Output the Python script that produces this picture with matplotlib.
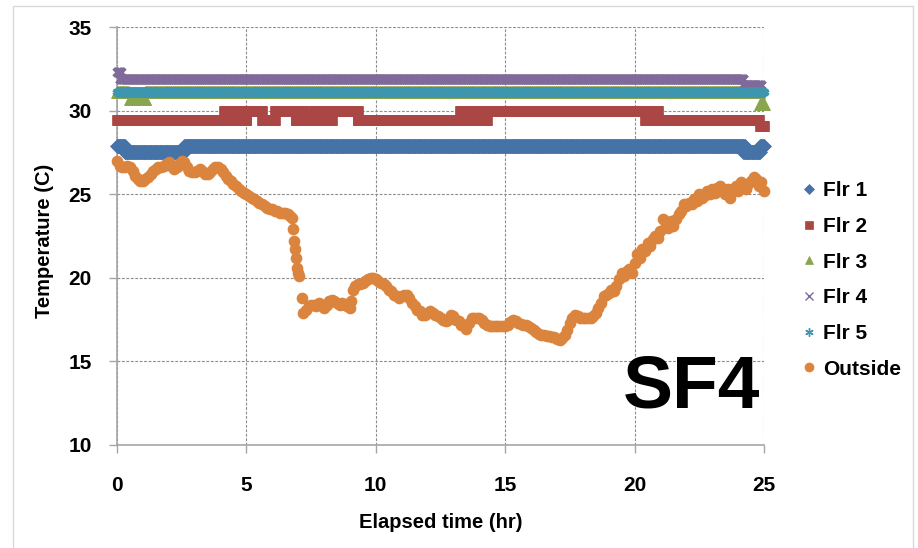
import numpy as np
import matplotlib
matplotlib.use("Agg")
import matplotlib.pyplot as plt
from matplotlib.lines import Line2D
from matplotlib.patches import Rectangle

plt.rcParams['font.family'] = ['Liberation Sans', 'DejaVu Sans']

# ---------------- data ----------------
# Floor sensors: constant readings over (start_hr, end_hr, temperature_C) spans
flr1_spans = [(0.0, 0.3, 27.9), (0.3, 2.6, 27.5), (2.6, 24.25, 27.9), (24.2, 24.85, 27.5), (24.85, 25.0, 27.9)]
flr2_spans = [(0.0, 5.0, 29.45), (4.15, 5.6, 30.0), (5.6, 6.1, 29.45), (6.1, 7.2, 30.0), (6.9, 8.3, 29.45),
              (7.6, 9.3, 30.0), (9.3, 14.3, 29.45), (13.25, 20.9, 30.0), (20.4, 24.8, 29.45), (24.85, 25.0, 29.1)]
flr3_spans = [(0.0, 0.45, 31.1), (0.5, 1.1, 30.7), (1.1, 24.8, 31.1), (24.85, 25.0, 30.4)]
flr4_spans = [(0.0, 0.15, 32.3), (0.1, 24.2, 31.9), (24.2, 24.9, 31.55)]
flr5_spans = [(0.0, 25.0, 31.1)]

out_hours = [0.0, 0.1, 0.2, 0.3, 0.4, 0.5, 0.6, 0.7, 0.8, 0.9, 1.0, 1.1, 1.2, 1.3, 1.4, 1.5, 1.6, 1.7, 1.8, 1.9,
             2.0, 2.1, 2.2, 2.3, 2.4, 2.5, 2.6, 2.7, 2.8, 2.9, 3.0, 3.1, 3.2, 3.3, 3.4, 3.5, 3.6, 3.7, 3.8, 3.9,
             4.0, 4.1, 4.2, 4.3, 4.4, 4.5, 4.6, 4.7, 4.8, 4.9, 5.0, 5.1, 5.2, 5.3, 5.4, 5.5, 5.6, 5.7, 5.8, 5.9,
             6.0, 6.1, 6.2, 6.3, 6.4, 6.5, 6.6, 6.7, 6.75,
             6.8, 6.85, 6.87, 6.9, 6.95, 7.0, 7.05, 7.15, 7.2, 7.3, 7.4, 7.5, 7.6, 7.7, 7.8, 7.9,
             8.0, 8.1, 8.2, 8.3, 8.4, 8.5, 8.6, 8.7, 8.8, 8.9, 9.0, 9.05, 9.1, 9.2, 9.3, 9.4, 9.5, 9.6, 9.7, 9.8, 9.9,
             10.0, 10.1, 10.2, 10.3, 10.4, 10.5, 10.6, 10.7, 10.8, 10.9, 11.0, 11.1, 11.2, 11.3, 11.4, 11.5, 11.6,
             11.7, 11.8, 11.9, 12.0, 12.1, 12.2, 12.3, 12.4, 12.5, 12.6, 12.7, 12.8, 12.9, 13.0, 13.1, 13.2, 13.3,
             13.4, 13.5, 13.6, 13.7, 13.8, 13.9, 14.0, 14.1, 14.2, 14.3, 14.4, 14.5, 14.6, 14.7, 14.8, 14.9, 15.0,
             15.1, 15.2, 15.3, 15.4, 15.5, 15.6, 15.7, 15.8, 15.9, 16.0, 16.1, 16.2, 16.3, 16.4, 16.5, 16.6, 16.7,
             16.8, 16.9, 17.0, 17.1, 17.2, 17.3, 17.4, 17.5, 17.6, 17.7, 17.8, 17.9, 18.0, 18.1, 18.2, 18.3, 18.4,
             18.5, 18.6, 18.7, 18.8, 18.9,
             19.0, 19.1, 19.2, 19.3, 19.4, 19.5, 19.6, 19.7, 19.8, 19.9, 20.0, 20.1, 20.2, 20.3, 20.4, 20.5, 20.6,
             20.7, 20.8, 20.9, 21.0, 21.1, 21.2, 21.3, 21.4, 21.5, 21.6, 21.7, 21.8, 21.9, 22.0, 22.1, 22.2, 22.3,
             22.4, 22.5, 22.6, 22.7, 22.8, 22.9, 23.0, 23.1, 23.2, 23.3, 23.4, 23.5, 23.6, 23.7, 23.8, 23.9, 24.0,
             24.1, 24.2, 24.3, 24.4, 24.5, 24.6, 24.7, 24.8, 24.9, 25.0]
out_temp = [27.0, 26.7, 26.6, 26.6, 26.7, 26.6, 26.4, 26.1, 25.9, 25.8, 25.8, 25.9, 26.0, 26.2, 26.4, 26.5, 26.6, 26.6, 26.7, 26.8,
            26.9, 26.7, 26.5, 26.6, 26.8, 27.0, 26.9, 26.6, 26.4, 26.3, 26.3, 26.4, 26.5, 26.4, 26.2, 26.2, 26.3, 26.5, 26.6, 26.6,
            26.5, 26.3, 26.1, 25.9, 25.8, 25.6, 25.5, 25.3, 25.2, 25.1, 25.0, 24.9, 24.8, 24.7, 24.6, 24.5, 24.4, 24.3, 24.2, 24.1,
            24.1, 24.0, 24.0, 23.9, 23.9, 23.9, 23.8, 23.7, 23.6,
            22.9, 22.2, 21.7, 21.2, 20.6, 20.3, 20.1, 18.8, 17.9, 18.1, 18.3, 18.4, 18.4, 18.3, 18.5, 18.4,
            18.2, 18.4, 18.6, 18.7, 18.6, 18.5, 18.4, 18.5, 18.4, 18.3, 18.2, 18.6, 19.3, 19.5, 19.6, 19.6, 19.7, 19.8, 19.9, 20.0, 20.0,
            19.9, 19.8, 19.7, 19.6, 19.5, 19.3, 19.2, 19.0, 18.9, 18.8, 18.9, 19.0, 19.0, 18.8, 18.5, 18.3, 18.1,
            18.0, 17.8, 17.8, 17.9, 18.0, 17.9, 17.8, 17.7, 17.6, 17.5, 17.4, 17.5, 17.8, 17.7, 17.5, 17.4, 17.2,
            17.1, 16.95, 17.3, 17.6, 17.6, 17.6, 17.6, 17.5, 17.3, 17.2, 17.1, 17.1, 17.1, 17.1, 17.1, 17.1, 17.1,
            17.2, 17.35, 17.45, 17.4, 17.3, 17.25, 17.2, 17.15, 17.1, 17.0, 16.9, 16.75, 16.65, 16.6, 16.55, 16.5, 16.5,
            16.45, 16.45, 16.35, 16.3, 16.4, 16.6, 16.9, 17.3, 17.6, 17.8, 17.7, 17.6, 17.6, 17.6, 17.6, 17.6, 17.7,
            17.9, 18.2, 18.5, 18.9, 19.0,
            19.1, 19.3, 19.2, 19.5, 19.9, 20.3, 20.1, 20.4, 20.5, 20.3, 20.9, 21.4, 21.2, 21.7, 21.6, 22.1, 21.9,
            22.3, 22.5, 22.4, 22.8, 23.5, 23.2, 23.0, 23.4, 23.1, 23.5, 23.8, 24.0, 24.4, 24.3, 24.5, 24.4, 24.7,
            24.6, 25.0, 24.8, 24.9, 25.2, 25.0, 25.3, 25.1, 25.4, 25.5, 25.2, 25.0, 25.3, 24.8, 25.2, 25.5, 25.2,
            25.7, 25.4, 25.3, 25.6, 25.8, 26.0, 25.9, 25.5, 25.7, 25.2]

series_names = ["Flr 1", "Flr 2", "Flr 3", "Flr 4", "Flr 5", "Outside"]
colors = ["#4572A7", "#AA4643", "#89A54E", "#80699B", "#3D96AE", "#DB843D"]
sample_step = 0.025  # logger sampling shown on the chart


def expand(spans):
    xs, ys = [], []
    for a, b, v in spans:
        n = int(round((b - a) / sample_step)) + 1
        t = np.linspace(a, b, n)
        xs.append(t)
        ys.append(np.full(n, v))
    return np.concatenate(xs), np.concatenate(ys)


# ---------------- figure ----------------
fig = plt.figure(figsize=(9.18, 5.48), dpi=100)
ax = fig.add_axes([117 / 918, 1 - 445 / 548, (764 - 117) / 918, (445 - 27) / 548])

fig.patches.append(Rectangle((13 / 918, -0.05), 900 / 918, 1.05 - 6 / 548, transform=fig.transFigure,
                             fill=False, edgecolor="#d9d9d9", linewidth=1.0, zorder=0))

styles = [
    dict(marker="D", markersize=7.5, markeredgewidth=0.5),
    dict(marker="s", markersize=7.2, markeredgewidth=0.5),
    dict(marker="^", markersize=8.0, markeredgewidth=0.5),
    dict(marker="x", markersize=6.0, markeredgewidth=2.4),
    dict(marker=(6, 2, 0), markersize=6.8, markeredgewidth=2.4),
]
for i, spans in enumerate([flr1_spans, flr2_spans, flr3_spans, flr4_spans, flr5_spans]):
    x, y = expand(spans)
    ax.plot(x, y, linestyle="none", color=colors[i], markerfacecolor=colors[i], markeredgecolor=colors[i],
            clip_on=False, zorder=3 + i, **styles[i])

ax.plot(out_hours, out_temp, linestyle="none", marker="o", markersize=7.4, color=colors[5],
        markeredgecolor=colors[5], clip_on=False, zorder=10)

ax.set_xlim(0, 25)
ax.set_ylim(10, 35)
ax.set_xticks([0, 5, 10, 15, 20, 25])
ax.set_yticks([10, 15, 20, 25, 30, 35])
ax.grid(True, color="#8c8c8c", linestyle=(0, (2.5, 1.5)), linewidth=0.8)
ax.set_axisbelow(True)
for s in ["top", "right"]:
    ax.spines[s].set_visible(False)
for s in ["left", "bottom"]:
    ax.spines[s].set_color("#a6a6a6")
    ax.spines[s].set_linewidth(1.2)
ax.tick_params(axis="both", direction="out", length=6, width=1.0, color="#a6a6a6", labelsize=15)
ax.tick_params(axis="y", pad=12)
ax.tick_params(axis="x", pad=16)
for lab in ax.get_xticklabels() + ax.get_yticklabels():
    lab.set_fontweight("bold")

fig.text(441 / 918, 1 - 523 / 548, "Elapsed time (hr)", ha="center", va="center", fontsize=14.5, fontweight="bold")
fig.text(45 / 918, 1 - 241 / 548, "Temperature (C)", ha="center", va="center", rotation=90, fontsize=14.5,
         fontweight="bold")
fig.text(691 / 918, 1 - 408 / 548, "SF4", ha="center", va="baseline", fontsize=54, fontweight="bold")

leg_markers = ["D", "s", "^", "x", (6, 2, 0), "o"]
leg_sizes = [5, 6, 6, 6, 6, 6.5]
handles = [Line2D([], [], linestyle="none", marker=m, markersize=ms, color=c, markeredgecolor=c,
                  markeredgewidth=1.0 if m in ("x", (6, 2, 0)) else 0.5)
           for m, ms, c in zip(leg_markers, leg_sizes, colors)]
leg = fig.legend(handles, series_names, loc="center left", bbox_to_anchor=(793 / 918, 1 - 280 / 548),
                 frameon=False, borderpad=0, handlelength=0.5, handletextpad=0.45, labelspacing=0.8,
                 prop=dict(size=15, weight="bold"))

fig.savefig("out.png", dpi=100)
